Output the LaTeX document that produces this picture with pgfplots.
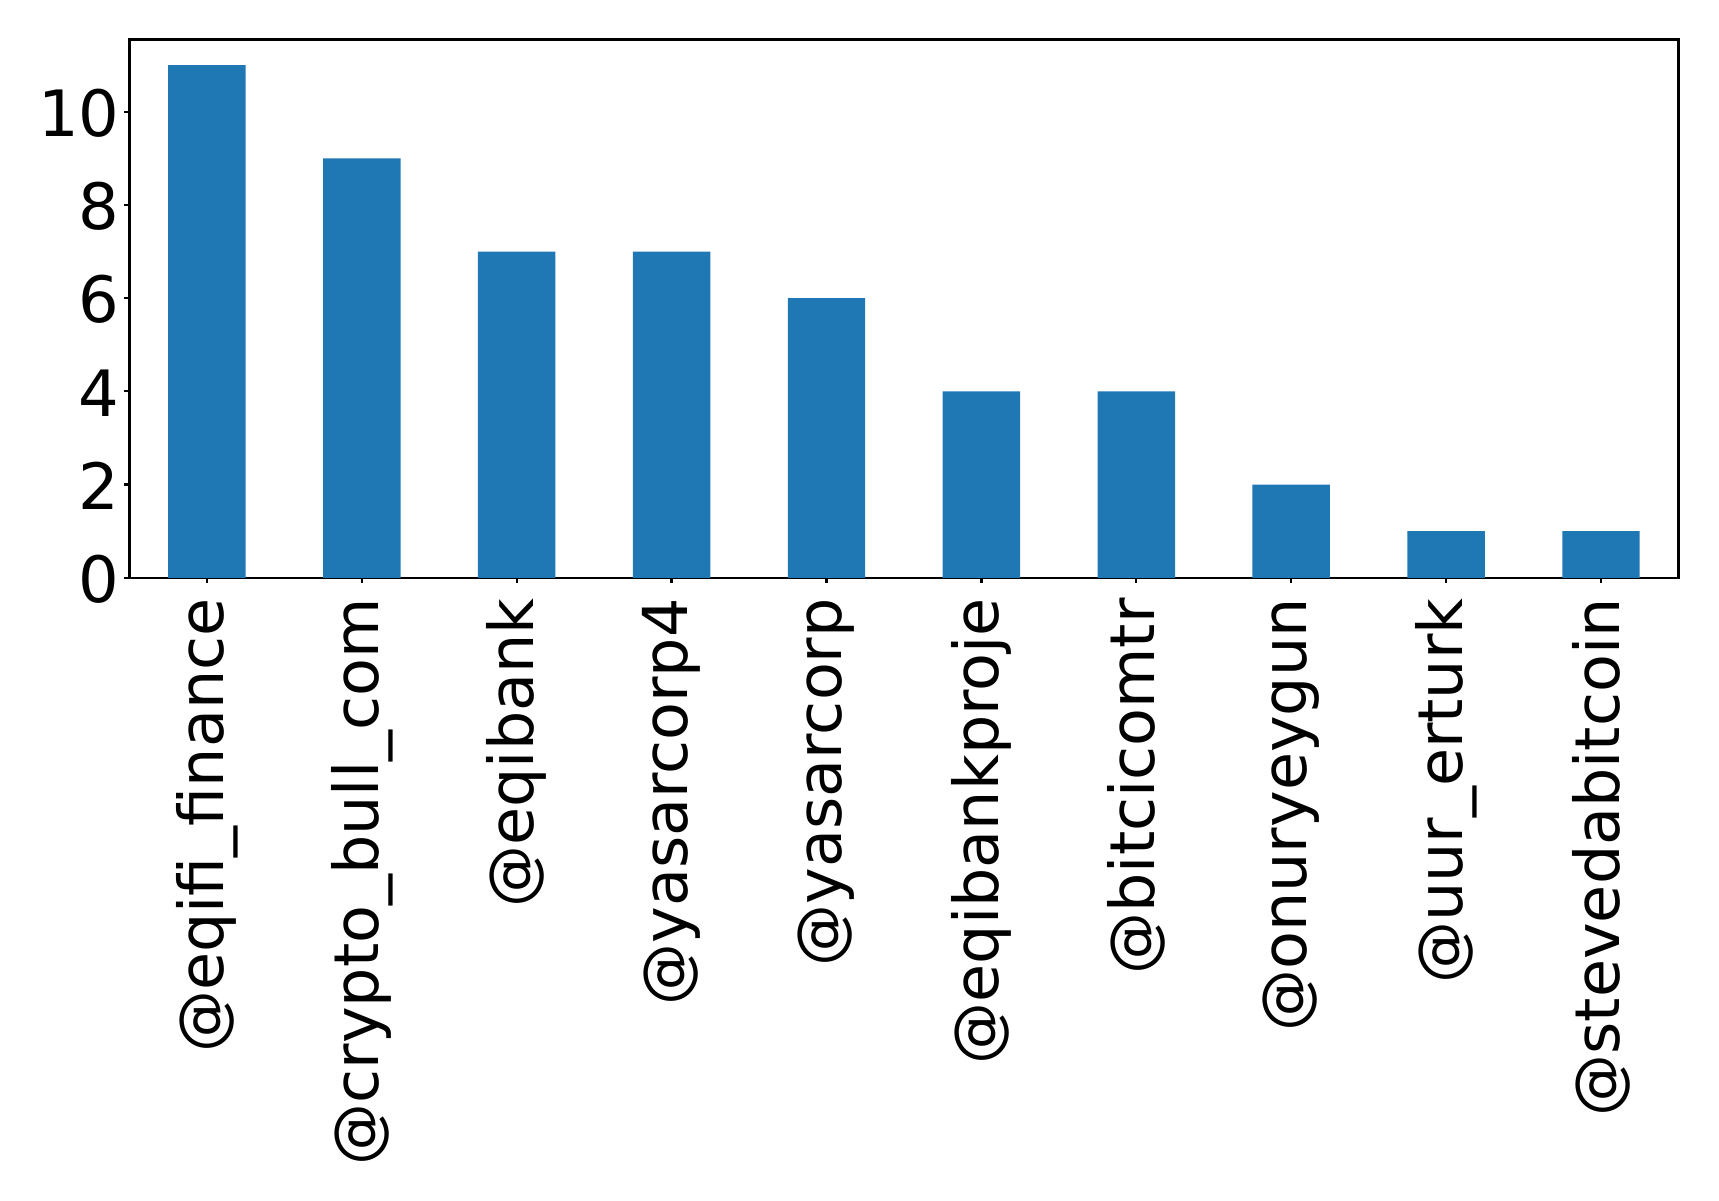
\documentclass[border=0pt]{standalone}
\usepackage{fontspec}
\setmainfont{DejaVu Sans}
\usepackage{pgfplots}
\pgfplotsset{compat=1.18}
\definecolor{barblue}{RGB}{31,119,180}
\begin{document}
\fontsize{22.3bp}{26bp}\selectfont
\begin{tikzpicture}
\begin{axis}[
  scale only axis,
  width=557.6bp, height=193.8bp,
  xmin=-0.5, xmax=9.5, ymin=0, ymax=11.55,
  ybar, bar width=0.5,
  xtick={0,...,9},
  xticklabels={@eqifi\_finance, @crypto\_bull\_com, @eqibank, @yasarcorp4, @yasarcorp, @eqibankproje, @bitcicomtr, @onuryeygun, @uur\_erturk, @stevedabitcoin},
  ytick={0,2,4,6,8,10},
  tick align=outside,
  xtick pos=left, ytick pos=left,
  major tick length=1.8bp,
  axis line style={line width=0.8bp},
  every tick/.style={black, line width=0.8bp},
  /pgf/number format/assume math mode=true,
  xticklabel style={font=\fontsize{22.3bp}{26bp}\selectfont, rotate=90, anchor=east, inner sep=0pt},
  yticklabel style={font=\fontsize{23bp}{27bp}\selectfont, anchor=east, inner sep=0pt, yshift=-0.5bp},
  xticklabel shift=5.4bp,
  yticklabel shift=1.6bp,
]
\addplot[fill=barblue, draw=none] coordinates {
  (0,11) (1,9) (2,7) (3,7) (4,6) (5,4) (6,4) (7,2) (8,1) (9,1)
};
\coordinate (bl) at (rel axis cs:0,0);
\coordinate (tr) at (rel axis cs:1,1);
\end{axis}
\pgfresetboundingbox
\path[use as bounding box] ([shift={(-46.6bp,-224bp)}]bl) rectangle ([shift={(14.6bp,14.2bp)}]tr);
\end{tikzpicture}
\end{document}
